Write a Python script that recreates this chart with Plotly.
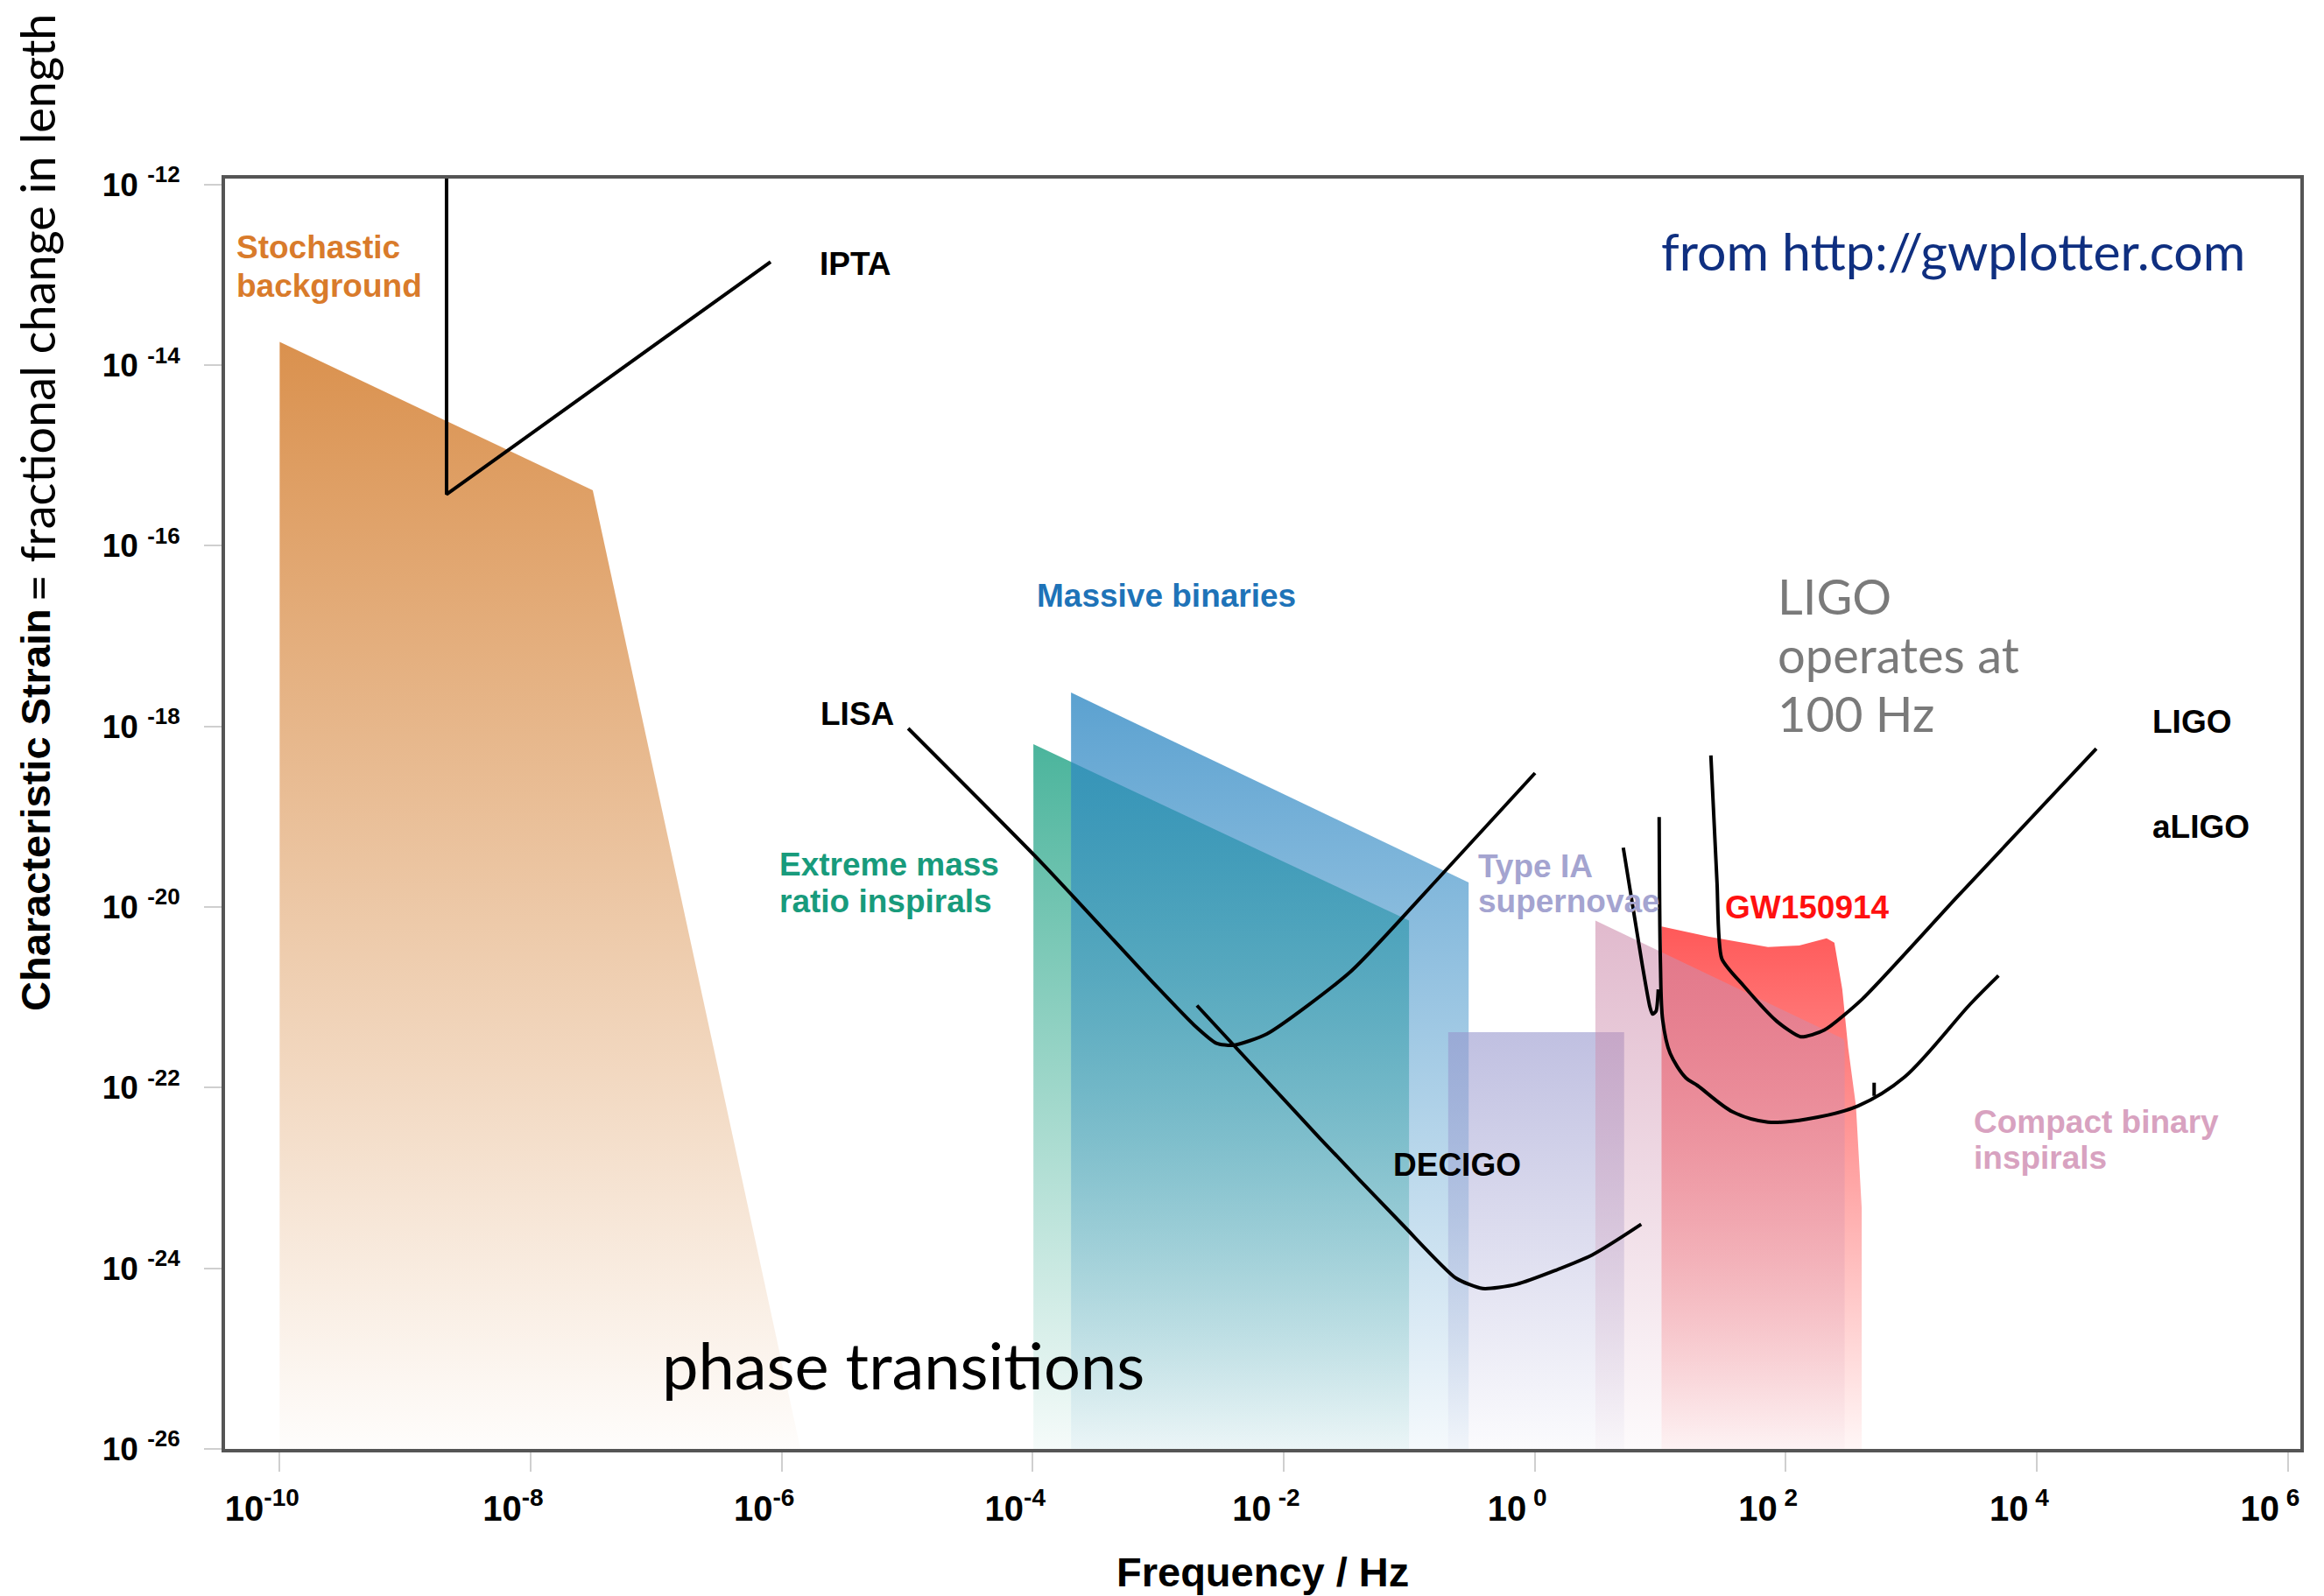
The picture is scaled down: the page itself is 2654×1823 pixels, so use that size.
import plotly.graph_objects as go

# ---------------- data (log10 of frequency [Hz] and of characteristic strain) -------------
STOCH_LOGF = [-10.0, -10.0, -7.505, -6.16, -5.85]
STOCH_LOGH = [-26.0, -13.743, -15.385, -24.0, -26.0]

EMRI_LOGF = [-3.994, -3.994, -1.001, -1.001]
EMRI_LOGH = [-26.0, -18.197, -20.150, -26.0]

MASSIVE_LOGF = [-3.694, -3.694, -0.526, -0.526]
MASSIVE_LOGH = [-26.0, -17.625, -19.728, -26.0]

SN1A_LOGF = [-0.689, -0.689, 0.713, 0.713]
SN1A_LOGH = [-26.0, -21.386, -21.386, -26.0]

GW150914_LOGF = [1.011, 1.011, 1.391, 1.859, 2.108, 2.326, 2.388, 2.451, 2.498, 2.560, 2.606, 2.606]
GW150914_LOGH = [-26.0, -20.216, -20.329, -20.443, -20.426, -20.346, -20.394, -20.911, -21.557, -22.203, -23.334, -26.0]

CBC_LOGF = [0.484, 0.484, 2.461, 2.470, 2.470]
CBC_LOGH = [-26.0, -20.150, -21.460, -21.500, -26.0]

IPTA_LOGF = [-8.670, -8.670, -6.088]
IPTA_LOGH = [-11.93, -15.431, -12.855]

LISA_LOGF = [-4.992, -3.915, -3.024, -2.713, -2.536, -2.403, -2.134, -1.468, -0.798, 0.003]
LISA_LOGH = [-18.022, -19.530, -20.862, -21.308, -21.508, -21.531, -21.405, -20.717, -19.728, -18.516]

DECIGO_LOGF = [-2.691, -1.712, -1.045, -0.626, -0.415, -0.144, 0.458, 0.849]
DECIGO_LOGH = [-21.090, -22.559, -23.528, -24.110, -24.224, -24.176, -23.852, -23.513]

LIGO_V_LOGF = [0.706, 0.855, 0.918, 0.939, 0.967, 0.985]
LIGO_V_LOGH = [-19.343, -20.620, -21.105, -21.185, -21.153, -20.911]

ALIGO_LOGF = [0.992, 1.002, 1.020, 1.079, 1.205, 1.298, 1.578, 1.859, 2.170, 2.575, 2.949, 3.472, 3.696]
ALIGO_LOGH = [-19.004, -20.620, -21.250, -21.619, -21.892, -21.977, -22.268, -22.381, -22.348, -22.203, -21.880, -21.073, -20.759]

ALIGO_TICK_LOGF = [2.705, 2.705]
ALIGO_TICK_LOGH = [-21.945, -22.091]

LIGO_LOGF = [1.404, 1.453, 1.491, 1.662, 1.928, 2.119, 2.308, 2.613, 3.373, 4.475]
LIGO_LOGH = [-18.321, -19.730, -20.571, -20.867, -21.263, -21.436, -21.362, -21.016, -19.878, -18.246]

X_TICK_EXP = [-10, -8, -6, -4, -2, 0, 2, 4, 6]
X_TICK_TEXT = ["10<sup>-10</sup>", "10<sup>-8</sup>", "10<sup>-6</sup>", "10<sup>-4</sup>",
               "10<sup> -2</sup>", "10<sup> 0</sup>", "10<sup> 2</sup>", "10<sup> 4</sup>", "10<sup> 6</sup>"]
Y_TICK_EXP = [-26, -24, -22, -20, -18, -16, -14, -12]
Y_TICK_TEXT = ["10\u00a0<sup>-26</sup>", "10\u00a0<sup>-24</sup>", "10\u00a0<sup>-22</sup>", "10\u00a0<sup>-20</sup>",
               "10\u00a0<sup>-18</sup>", "10\u00a0<sup>-16</sup>", "10\u00a0<sup>-14</sup>", "10\u00a0<sup>-12</sup>"]


def pw(vals):
    return [10.0 ** v for v in vals]


fig = go.Figure()


def add_region(lf, lh, rgb, a_top, a_bot):
    fig.add_trace(go.Scatter(
        x=pw(lf), y=pw(lh), mode="lines", fill="toself",
        line=dict(width=0, color="rgba(0,0,0,0)"),
        fillgradient=dict(type="vertical",
                          colorscale=[[0, f"rgba({rgb},{a_bot})"], [1, f"rgba({rgb},{a_top})"]]),
        hoverinfo="skip", showlegend=False))


add_region(STOCH_LOGF, STOCH_LOGH, "218,145,78", 1.0, 0.02)
add_region(EMRI_LOGF, EMRI_LOGH, "55,172,145", 0.9, 0.05)
add_region(MASSIVE_LOGF, MASSIVE_LOGH, "45,135,195", 0.78, 0.05)
add_region(SN1A_LOGF, SN1A_LOGH, "150,150,205", 0.6, 0.04)
add_region(GW150914_LOGF, GW150914_LOGH, "255,80,80", 0.95, 0.05)
add_region(CBC_LOGF, CBC_LOGH, "205,140,172", 0.6, 0.04)


def add_curve(lf, lh, shape="linear", smoothing=0.6):
    fig.add_trace(go.Scatter(
        x=pw(lf), y=pw(lh), mode="lines",
        line=dict(color="black", width=4, shape=shape, smoothing=smoothing),
        hoverinfo="skip", showlegend=False))


add_curve(IPTA_LOGF, IPTA_LOGH)
add_curve(LISA_LOGF, LISA_LOGH, "spline")
add_curve(DECIGO_LOGF, DECIGO_LOGH, "spline")
add_curve(LIGO_V_LOGF, LIGO_V_LOGH, "spline")
add_curve(ALIGO_LOGF, ALIGO_LOGH, "spline", 0.9)
add_curve(ALIGO_TICK_LOGF, ALIGO_TICK_LOGH)
add_curve(LIGO_LOGF, LIGO_LOGH, "spline")

ARIAL = "Liberation Sans, Arial, Helvetica, sans-serif"
GILL = "Lato, 'Open Sans', sans-serif"

labels = [
    ("Stochastic", -10.359, -12.695, "#D97B2B"),
    ("background", -10.359, -13.117, "#D97B2B"),
    ("IPTA", -5.711, -12.880, "black"),
    ("Massive binaries", -3.980, -16.549, "#1E73B8"),
    ("LISA", -5.704, -17.857, "black"),
    ("Extreme mass", -6.030, -19.534, "#189B7C"),
    ("ratio inspirals", -6.030, -19.941, "#189B7C"),
    ("Type IA", -0.463, -19.544, "#A4A4D0"),
    ("supernovae", -0.463, -19.941, "#A4A4D0"),
    ("GW150914", 1.500, -20.004, "#FF1010"),
    ("DECIGO", -1.140, -22.859, "black"),
    ("LIGO", 4.910, -17.945, "black"),
    ("aLIGO", 4.910, -19.108, "black"),
    ("Compact binary", 3.486, -22.375, "#D8A2C0"),
    ("inspirals", 3.486, -22.772, "#D8A2C0"),
]

annotations = []
for txt, ax, ay, col in labels:
    annotations.append(dict(text=txt, x=ax, y=ay, xref="x", yref="y", showarrow=False,
                            xanchor="left", yanchor="middle",
                            font=dict(family=ARIAL, size=37, color=col, weight="bold")))

gill_labels = [
    ("LIGO", 1.921, -16.553, "#7A7A7A", 56),
    ("operates at", 1.921, -17.198, "#7A7A7A", 56),
    ("100 Hz", 1.921, -17.854, "#7A7A7A", 56),
    ("from http://gwplotter.com", 0.995, -12.729, "#0F2F80", 59),
    ("phase transitions", -6.967, -25.069, "black", 74),
]
for txt, ax, ay, col, sz in gill_labels:
    annotations.append(dict(text=txt, x=ax, y=ay, xref="x", yref="y", showarrow=False,
                            xanchor="left", yanchor="middle",
                            font=dict(family=GILL, size=sz, color=col)))

# axis titles
annotations.append(dict(text="Characteristic Strain", x=-0.0916, y=0.3432, xref="paper", yref="paper",
                        showarrow=False, textangle=-90, xanchor="center", yanchor="bottom",
                        font=dict(family=ARIAL, size=47, color="black", weight="bold")))
annotations.append(dict(text="= fractional change in length", x=-0.0905, y=0.665, xref="paper", yref="paper",
                        showarrow=False, textangle=-90, xanchor="center", yanchor="bottom",
                        font=dict(family=GILL, size=54, color="black")))
annotations.append(dict(text="Frequency / Hz", x=0.5, y=-0.0965, xref="paper", yref="paper",
                        showarrow=False, xanchor="center", yanchor="middle",
                        font=dict(family=ARIAL, size=47, color="black", weight="bold")))

fig.update_layout(
    width=2654, height=1823,
    margin=dict(l=257, r=27, t=204, b=168),
    paper_bgcolor="white", plot_bgcolor="white",
    showlegend=False,
    annotations=annotations,
    xaxis=dict(type="log", range=[-10.435, 6.101], tickvals=pw(X_TICK_EXP), ticktext=X_TICK_TEXT,
               ticks="outside", ticklen=22, tickwidth=2, tickcolor="#cfcfcf",
               showline=True, linecolor="#555555", linewidth=4, mirror=True,
               showgrid=False, zeroline=False, ticklabelstandoff=8, ticklabelshift=-20,
               tickfont=dict(family=ARIAL, size=40, color="black", weight="bold")),
    yaxis=dict(type="log", range=[-26.0, -11.934], tickvals=pw(Y_TICK_EXP), ticktext=Y_TICK_TEXT,
               ticks="outside", ticklen=20, tickwidth=2, tickcolor="#cfcfcf",
               showline=True, linecolor="#555555", linewidth=4, mirror=True,
               showgrid=False, zeroline=False, ticklabelstandoff=20,
               tickfont=dict(family=ARIAL, size=37, color="black", weight="bold")),
)

fig.write_html("out.html", config={"displayModeBar": False},
               post_script="document.body.style.margin='0';document.body.style.overflow='hidden';")
